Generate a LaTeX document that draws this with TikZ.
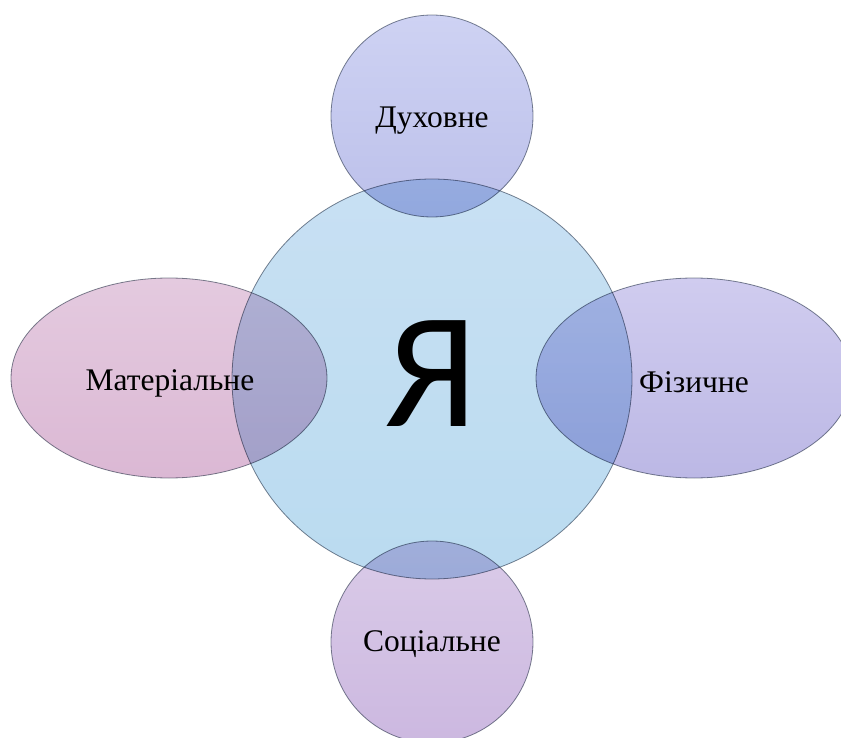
\documentclass[tikz,border=0pt]{standalone}
\usepackage{fontspec}
\setmainfont{Liberation Serif}
\newfontfamily\yafont{Carlito}
\definecolor{edgec}{RGB}{128,136,148}
\definecolor{cTop}{RGB}{200,224,243}
\definecolor{cBot}{RGB}{186,219,240}
\definecolor{uTop}{RGB}{206,210,243}
\definecolor{uBot}{RGB}{188,192,234}
\definecolor{lTop}{RGB}{228,202,223}
\definecolor{lBot}{RGB}{219,184,212}
\definecolor{rTop}{RGB}{208,204,239}
\definecolor{rBot}{RGB}{188,184,229}
\definecolor{dTop}{RGB}{218,203,232}
\definecolor{dBot}{RGB}{204,184,224}
\tikzset{
  blob/.style={draw=edgec, line width=0.8pt},
  lbl/.style={font=\fontsize{31.5}{36}\selectfont, text=black},
}
\begin{document}
\begin{tikzpicture}[x=1pt,y=-1pt]
\useasboundingbox (0,0) rectangle (841,738);
\clip (0,0) rectangle (841,738);
\begin{scope}[blend group=multiply]
\path[blob, top color=cTop, bottom color=cBot] (432,379) circle [radius=200];
\path[blob, top color=uTop, bottom color=uBot] (432,116) circle [radius=101];
\path[blob, top color=dTop, bottom color=dBot] (432,642) circle [radius=101];
\path[blob, top color=lTop, bottom color=lBot] (169,378) ellipse [x radius=158, y radius=100];
\path[blob, top color=rTop, bottom color=rBot] (694,378) ellipse [x radius=158, y radius=100];
\end{scope}
\node (ya) at (431,374) {\yafont\fontsize{165}{165}\selectfont Я};
\node[lbl] (dukh) at (432,121) {Духовне};
\node[lbl] (mat) at (170,383) {Матеріальне};
\node[lbl] (fiz) at (694,382) {Фізичне};
\node[lbl] (soc) at (432,644) {Соціальне};
\end{tikzpicture}
\end{document}
